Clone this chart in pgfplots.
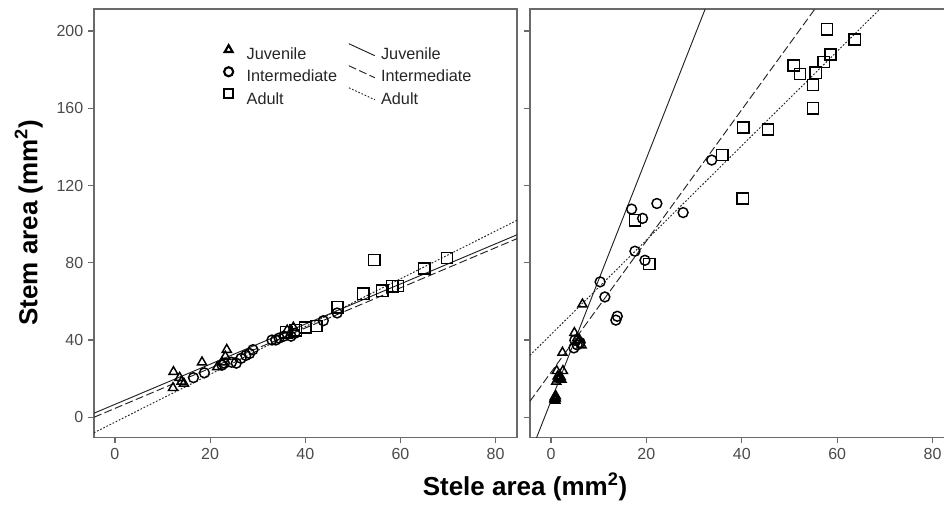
\documentclass[border=0pt]{standalone}
\usepackage{pgfplots}
\pgfplotsset{compat=1.18}
\usepackage{fontspec}
\setmainfont{Liberation Sans}

\definecolor{framegray}{HTML}{6A6A6A}
\definecolor{tickgray}{HTML}{4A4A4A}
\definecolor{linegray}{HTML}{222222}

\pgfplotsset{
  panel/.style={
    scale only axis,
    anchor=south west,
    width=317.25pt, height=321.2pt,
    xmin=-4.4, xmax=84.5,
    ymin=-10.4, ymax=211.4,
    xtick={0,20,40,60,80},
    ytick={0,40,80,120,160,200},
    tick pos=left,
    tick align=outside,
    major tick length=4.5pt,
    axis line style={framegray, line width=1.1pt},
    every tick/.style={framegray, line width=0.9pt},
    ticklabel style={font=\fontsize{12}{14}\selectfont, text=tickgray},
    /pgf/number format/assume math mode=true,
    clip=true,
  },
  juv/.style={only marks, mark=triangle, mark size=3.9pt,
    mark options={black, line width=1.1pt, fill=none}},
  int/.style={only marks, mark=o, mark size=3.7pt,
    mark options={black, line width=1.1pt, fill=none}},
  adu/.style={only marks, mark=square, mark size=4.2pt,
    mark options={black, line width=1.1pt, fill=none}},
  fitjuv/.style={linegray, line width=0.7pt, no marks},
  fitint/.style={linegray, line width=0.7pt, no marks, dash pattern=on 6pt off 2.5pt},
  fitadu/.style={linegray, line width=0.7pt, no marks, dash pattern=on 1.3pt off 1.3pt},
  markleg/.style={legend image code/.code={
      \draw[##1, only marks, mark size=3.4pt,
            mark options={line width=1.6pt}]
        plot coordinates {(0pt,4pt)};
      \path (-4pt,0pt) (11.3pt,0pt);}},
  lineleg/.style={legend image code/.code={
      \draw[##1] (0pt,8.5pt) -- (19.5pt,-0.5pt);
      \path (0pt,0pt) (21.8pt,0pt);}},
}

\begin{document}
\begin{tikzpicture}[x=1pt,y=1pt]
\path[use as bounding box] (0,0) rectangle (708,382.5);

% ---- left panel: stem area vs stele area, all stages ----
\begin{axis}[panel, at={(70.5pt,54.5pt)},
  legend columns=2,
  legend style={draw=none, fill=none, at={(0.295,0.927)}, anchor=north west,
    font=\fontsize{12.2}{14}\selectfont, text=black!85,
    row sep=0.5pt,
    /tikz/every even column/.append style={column sep=6.5pt}},
  legend cell align=left,
]
\addplot[juv, markleg] coordinates {
  (12.3,23.5) (12.2,15.2) (13.6,20.5) (14.0,18.5) (14.5,17.5) (18.3,28.5)
  (21.5,26.0) (22.5,28.5) (23.2,31.5) (23.5,35.0) (36.2,45.0) (37.5,46.5)
};
\addlegendentry{Juvenile}
\addplot[fitjuv, lineleg] coordinates {(-4.4,2.1) (84.5,94.5)};
\addlegendentry{Juvenile}
\addplot[int, markleg] coordinates {
  (16.5,20.5) (18.8,23.0) (22.5,27.0) (23.0,28.0) (24.5,28.5) (25.5,28.0)
  (26.5,30.5) (27.5,32.0) (28.3,33.0) (29.0,35.0) (33.0,40.0) (33.8,40.0)
  (34.5,41.0) (35.5,42.0) (37.0,42.0) (37.8,43.5) (43.8,50.0) (46.7,54.0)
};
\addlegendentry{Intermediate}
\addplot[fitint, lineleg] coordinates {(-4.4,0.0) (84.5,92.5)};
\addlegendentry{Intermediate}
\addplot[adu, markleg] coordinates {
  (36.0,44.0) (38.0,45.0) (40.0,46.5) (42.3,47.3) (46.8,57.0) (52.2,64.0)
  (54.5,81.5) (56.2,65.5) (58.3,67.8) (59.5,68.0) (65.0,77.0) (69.8,82.5)
};
\addlegendentry{Adult}
\addplot[fitadu, lineleg] coordinates {(-4.4,-8.0) (84.5,102.0)};
\addlegendentry{Adult}
\end{axis}

% ---- right panel: second group of specimens ----
\begin{axis}[panel, at={(397.5pt,54.5pt)}, width=318pt,
  yticklabels={},
]
\addplot[juv] coordinates {
  (0.8,9.0) (0.9,10.0) (1.0,11.0) (0.8,10.5) (0.7,9.4) (0.9,8.7) (1.0,9.8)
  (0.85,10.3) (1.1,18.5) (1.5,20.0) (1.6,20.8) (1.7,19.6) (1.4,21.2)
  (2.0,21.0) (2.2,19.5) (1.8,20.4) (1.2,24.0) (2.5,24.0) (2.4,33.5) (4.9,43.7)
  (5.5,41.0) (6.6,58.5) (6.4,37.3) (6.0,40.0)
};
\addplot[int] coordinates {
  (4.8,35.9) (5.0,39.9) (6.1,38.7) (5.5,37.5) (10.3,70.1) (11.3,62.3)
  (13.9,52.3) (13.6,50.3) (16.9,107.8) (17.6,86.0) (19.2,103.0) (19.7,81.3)
  (22.2,110.7) (27.7,106.0) (33.7,133.2)
};
\addplot[adu] coordinates {
  (17.6,102.0) (20.6,79.3) (35.9,135.8) (40.2,113.3) (40.3,150.0) (45.5,149.0)
  (50.9,182.2) (52.2,177.7) (54.9,160.0) (54.9,172.0) (55.5,178.4) (57.2,184.0)
  (57.9,200.9) (58.6,187.9) (63.7,195.7)
};
\addplot[fitjuv] coordinates {(-4.4,-19.2) (35.0,228.2)};
\addplot[fitint] coordinates {(-4.4,8.3) (60.0,227.3)};
\addplot[fitadu] coordinates {(-4.4,32.1) (76.0,228.6)};
\end{axis}

% ---- shared axis titles ----
\node[rotate=90, font=\bfseries\fontsize{19.5}{22}\selectfont]
  at (21.5,215.5) {Stem area (mm\textsuperscript{2})};
\node[font=\bfseries\fontsize{19.5}{22}\selectfont]
  at (393.75,17.5) {Stele area (mm\textsuperscript{2})};
\end{tikzpicture}
\end{document}
